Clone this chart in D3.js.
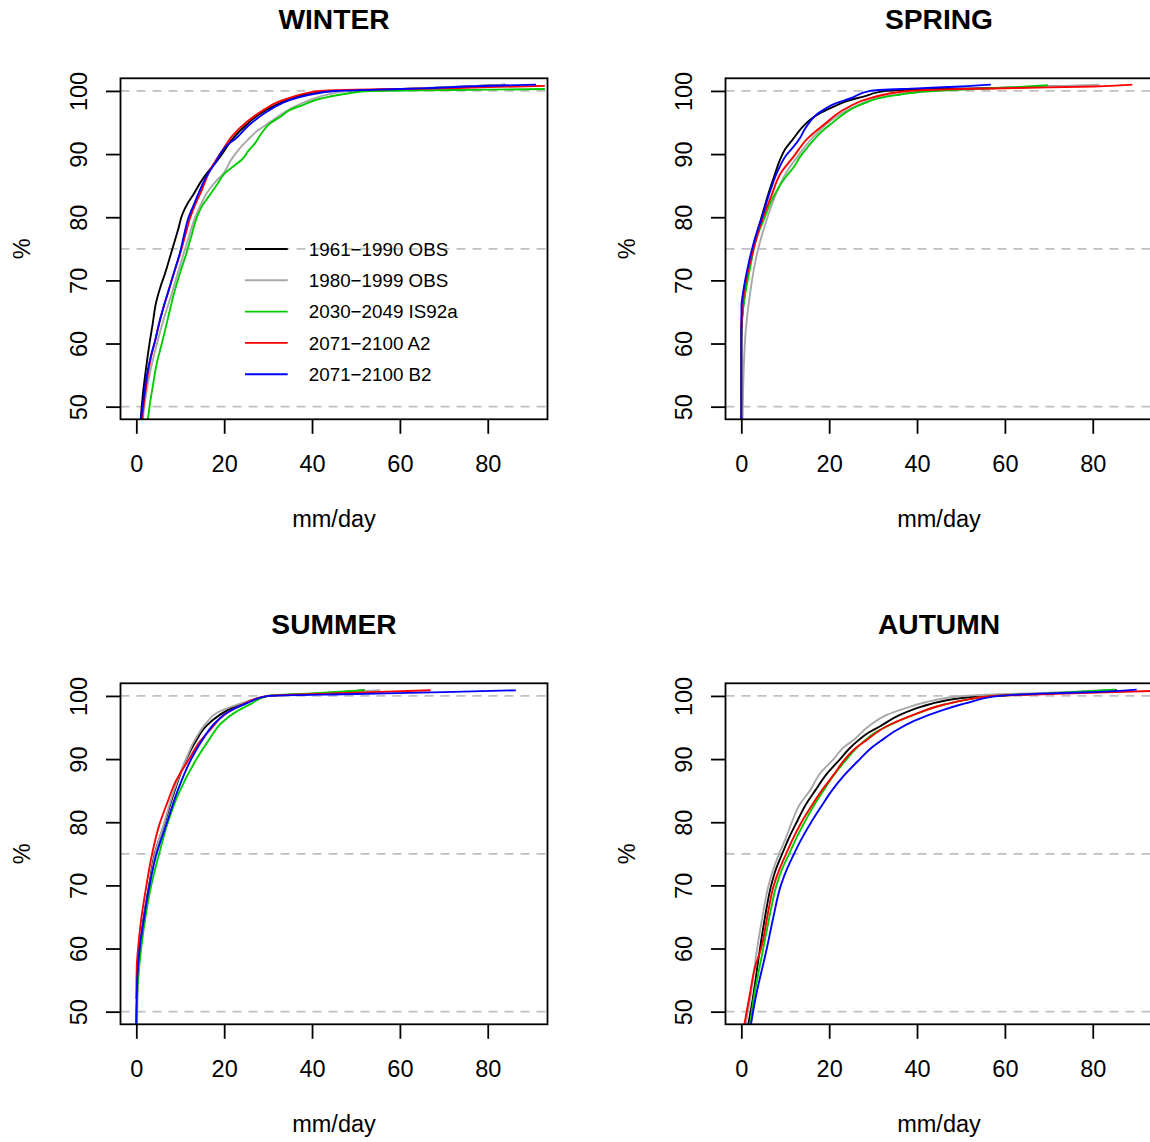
<!DOCTYPE html>
<html lang="en">
<head>
<meta charset="UTF-8">
<title>Daily precipitation distribution by season</title>
<script src="https://cdn.jsdelivr.net/npm/d3@7"></script>
<style>
  body { margin: 0; background: #fff; }
  svg { display: block; font-family: "Liberation Sans", Arial, Helvetica, sans-serif; }
</style>
</head>
<body>
<svg id="chart" width="1150" height="1142"></svg>
<script>
// ---- data ----
const seasons = ["WINTER", "SPRING", "SUMMER", "AUTUMN"];
const seriesNames = ["1961\u22121990 OBS", "1980\u22121999 OBS", "2030\u22122049 IS92a", "2071\u22122100 A2", "2071\u22122100 B2"];
const xTicks = [0, 20, 40, 60, 80];
const yTicks = [50, 60, 70, 80, 90, 100];
const refLevels = [50, 75, 100];
const xLimits = [0, 90];
const yLimits = [50, 100];
const xLabel = "mm/day";
const yLabel = "%";

// [mm/day, %]
const winterObs6190 = [[1.0,48],[1.5,52],[2.2,56],[3.0,60],[3.7,63],[4.5,66.5],[5.5,69],[6.5,71],[8,74.5],[9.5,78],[10.5,80.5],[11.7,82.2],[13,83.6],[14.5,85.4],[16,86.9],[18,88.6],[19.5,90],[22,92.5],[25,94.6],[28,96.3],[31,97.5],[35,98.7],[40,99.6],[45,100],[55,100.2],[65,100.4],[75,100.7],[84,101]];
const winterObs8099 = [[1.5,48],[2,51],[3,55],[4.7,60],[6.3,64],[8.1,68],[9.5,71.3],[10.8,74.3],[12,77],[13.4,80],[14.7,82],[16,83.8],[18,85.6],[19.9,87],[21.5,89],[23.3,90.7],[25.3,92.2],[27.4,93.6],[30.5,95.1],[33,96.3],[36,97.5],[40,98.7],[44,99.5],[48,100],[60,100.3],[70,100.6],[84,101]];
const winterIs92a = [[2.65,48],[3,50],[3.7,53],[4.7,57],[5.8,60],[7.2,64],[8.6,68],[10,71.3],[11.4,74.3],[12.6,77.2],[13.8,80],[15,81.8],[16.5,83.3],[18.5,85.3],[20.2,87],[22,88],[24,89.1],[25.5,90.5],[27,91.7],[28.5,93.3],[30.5,94.9],[33,96],[35,97],[38,97.8],[41,98.6],[44,99.1],[48,99.6],[53,100],[65,100.1],[80,100.2],[93,100.3]];
const winterA2 = [[1.3,48],[1.8,51],[2.6,55],[3.4,58],[4.3,60.5],[5.3,63.5],[6.3,66],[7.4,68.5],[8.7,71.5],[10,74.3],[11.2,77.3],[12.3,80],[13.4,82],[14.6,83.8],[15.7,85.7],[16.8,87.5],[18.3,89.2],[19.9,90.9],[22,93],[25,95],[29,97],[32,98.2],[35.8,99.1],[39,99.7],[42,100],[50,100.2],[60,100.3],[70,100.4],[80,100.6],[93,100.8]];
const winterB2 = [[1.06,48],[1.6,51],[2.4,55],[3.3,58],[4.3,60.5],[5.3,63.5],[6.3,66],[7.4,68.5],[8.7,71.5],[9.9,74.3],[10.9,77.3],[11.9,80],[13.1,82],[14.3,84],[15.6,86],[17,87.6],[18.3,89],[19.1,90],[20.5,91.3],[22.7,92.5],[25.5,94.5],[29.7,96.7],[33,98],[37,99],[41,99.6],[45,100],[55,100.2],[65,100.4],[75,100.7],[91,101]];

const springObs6190 = [[0,48],[0,60],[0.2,64],[0.8,68],[1.8,72],[3.1,76.4],[4.6,80],[6.2,83.8],[7.5,86.5],[8.8,89.1],[10,90.8],[11.8,92.4],[13.7,94.1],[15.6,95.4],[18,96.5],[21,97.5],[24,98.4],[27.8,99.1],[33,100],[45,100.3],[60,100.5],[75,100.8]];
const springObs8099 = [[0.3,48],[0.5,55],[1,62],[2,68],[3.5,74],[5.5,79],[7.5,83],[10,86.8],[13,89.8],[16.5,92.8],[21,95.6],[26,97.6],[32,99],[40,99.8],[50,100.2],[65,100.6],[81.5,101]];
const springIs92a = [[0,48],[0,62],[0.7,67],[2,72],[3.5,76.8],[5.4,80.1],[6.8,82.5],[8,84.1],[9.2,85.5],[10.5,86.7],[12,88],[13.4,89.6],[15,91],[16.8,92.5],[18.7,93.8],[21,95.1],[23,96.2],[25.5,97.3],[28.5,98.2],[31.6,98.9],[36,99.4],[40,99.8],[50,100.2],[60,100.5],[69.8,100.9]];
const springA2 = [[0,48],[0,62],[0.3,66],[0.8,69],[1.7,72],[3,75.5],[4.9,79.9],[6.8,83.3],[9,87],[11.9,89.6],[15,92.4],[18.7,94.6],[24,97.3],[29.5,98.9],[38,100],[50,100.3],[65,100.5],[80,100.7],[89,101]];
const springB2 = [[0,48],[0,62],[0.05,66],[0.5,68.5],[1.6,72.5],[3,76.4],[4.7,80],[6.5,84],[8.4,87.5],[10.3,89.9],[11.8,91.1],[13.4,92.6],[14.5,94],[15.6,95.1],[17,96.2],[18.7,97],[21.3,98],[24.8,98.8],[29.3,100],[40,100.4],[50,100.7],[56.8,101]];

const summerObs6190 = [[0,48],[0.3,55],[0.8,60],[1.8,65.5],[2.9,70],[4.2,75],[6.5,80],[8.5,84.5],[11.4,90],[13.5,92.8],[16,95.3],[19,97],[22,98.2],[26,99.2],[30,100],[40,100.3],[52,100.9]];
const summerObs8099 = [[0.2,48],[0.4,55],[0.9,60],[1.9,65.5],[3,70],[4.3,75],[6.4,80],[8.4,84.7],[11.3,90],[13.3,93],[15.8,95.6],[18.5,97.4],[22,98.4],[26,99.3],[30,100],[45,100.5],[55.5,100.9]];
const summerIs92a = [[0,48],[0.3,54],[1.1,60],[2.2,65.5],[3.4,70],[5.2,75],[7.2,80],[9.8,84.8],[13.7,90],[16.5,93],[19.5,95.8],[22.5,97.4],[26,98.7],[30,100],[40,100.4],[52,100.9]];
const summerA2 = [[0,52],[0.1,57],[0.4,60],[1,64],[2.3,70],[3.6,75],[5.2,79.5],[7,83],[9,86.5],[12,90],[14.5,92.8],[17,94.8],[20,97],[24,98.6],[30,100],[45,100.4],[67,100.9]];
const summerB2 = [[0,48],[0.2,55],[0.76,60],[1.8,65],[3,70],[4.6,75],[7,80],[9.3,84.8],[12.5,90],[15,93],[18,95.8],[21,97.5],[25,98.8],[30,100],[50,100.3],[70,100.6],[86.4,100.9]];

const autumnObs6190 = [[1.6,48],[2.6,52],[4.25,60],[5.4,65],[6.8,70],[7.9,72.6],[9.3,75],[10.9,77.6],[12.6,80],[14.6,82.7],[16.8,85],[19.5,87.7],[22.5,90],[24.5,91.6],[26.7,93],[29,94.2],[31.6,95.2],[36.1,97],[41,98.3],[46,99.2],[52,99.8],[57,100],[70,100.4],[85.5,100.9]];
const autumnObs8099 = [[1.0,48],[2.0,52],[3.6,60],[4.8,65],[6.2,70],[7.3,72.6],[8.6,75],[10.2,77.6],[11.5,80],[13.2,82.7],[15.6,85],[18,87.8],[21,90],[23.2,91.8],[25.5,93],[29,95.2],[33.1,97],[38,98.2],[42,99],[46,99.6],[50.6,100],[60,100.3],[70,100.5],[85,101]];
const autumnIs92a = [[2.0,48],[2.8,52],[5.0,60],[6.4,65],[8.0,70],[9.3,72.6],[10.9,75],[12.6,77.6],[14.4,80],[16.5,82.6],[18.7,85],[21,87.4],[24,90],[26,91.6],[28.2,93],[30.5,94.2],[33.5,95.3],[39.2,97],[46,98.6],[52,99.5],[57.4,100],[70,100.4],[85,101]];
const autumnA2 = [[0.7,48],[2,53],[3.1,57],[4.5,60],[5.9,65],[7.4,70],[8.7,72.6],[10.2,75],[11.9,77.6],[13.7,80],[16,82.6],[18.3,85],[21,87.5],[23.6,90],[26,91.7],[28.5,93],[33.1,95.2],[39.2,97],[46,98.6],[52,99.5],[57.4,100],[70,100.3],[85,100.6],[93.6,100.8]];
const autumnB2 = [[2.2,48],[3.2,52],[5.8,60],[7.3,65],[9.0,70],[10.4,72.6],[12,75],[13.9,77.6],[15.9,80],[18.2,82.5],[20.6,85],[23.5,87.5],[27,90],[29.5,91.7],[32,93],[35.4,94.6],[39.2,96],[46,97.8],[52,99],[58.9,100],[70,100.4],[80,100.6],[90,101]];

const seasonCurves = [
  [winterObs6190, winterObs8099, winterIs92a, winterA2, winterB2],
  [springObs6190, springObs8099, springIs92a, springA2, springB2],
  [summerObs6190, summerObs8099, summerIs92a, summerA2, summerB2],
  [autumnObs6190, autumnObs8099, autumnIs92a, autumnA2, autumnB2]
];

// ---- style ----
const seriesColors = ["#000000", "#a8a8a8", "#00cd00", "#ff0000", "#0000ff"];
const refColor = "#c0c0c0";
const baseFont = 23.5;

// ---- layout (R-like 2x2 panels) ----
const svg = d3.select("#chart");
const cellSize = 605;
const plotLeft = 120.5, plotTop = 78.3, plotW = 427, plotH = 341;

// R pads the limits by 4% on each side
const pad = (lim) => { const d = (lim[1] - lim[0]) * 0.04; return [lim[0] - d, lim[1] + d]; };

seasons.forEach((season, i) => {
  const col = i % 2, row = Math.floor(i / 2);
  const g = svg.append("g")
      .attr("transform", `translate(${col * cellSize + plotLeft},${row * cellSize + plotTop})`);

  const x = d3.scaleLinear().domain(pad(xLimits)).range([0, plotW]);
  const y = d3.scaleLinear().domain(pad(yLimits)).range([plotH, 0]);

  const clipId = "clip" + i;
  g.append("clipPath").attr("id", clipId)
    .append("rect").attr("width", plotW).attr("height", plotH);

  // dashed reference lines
  g.selectAll("line.ref").data(refLevels).enter().append("line")
      .attr("class", "ref")
      .attr("x1", 0).attr("x2", plotW)
      .attr("y1", d => y(d)).attr("y2", d => y(d))
      .attr("stroke", refColor).attr("stroke-width", 1.8)
      .attr("stroke-dasharray", "9,7");

  // curves (values rise monotonically in %, so interpolate along y)
  const line = d3.line().x(d => x(d[0])).y(d => y(d[1])).curve(d3.curveMonotoneY);
  g.append("g").attr("clip-path", `url(#${clipId})`)
    .selectAll("path").data(seasonCurves[i]).enter().append("path")
      .attr("d", line)
      .attr("fill", "none")
      .attr("stroke", (d, k) => seriesColors[k])
      .attr("stroke-width", 1.9)
      .attr("stroke-linejoin", "round");

  // x axis
  const xAxis = g.append("g")
      .attr("transform", `translate(0,${plotH})`)
      .call(d3.axisBottom(x).tickValues(xTicks).tickSize(14.5).tickPadding(21.2));
  xAxis.select(".domain").remove();

  // y axis, labels parallel to the axis
  const yAxis = g.append("g")
      .call(d3.axisLeft(y).tickValues(yTicks).tickSize(14.5));
  yAxis.select(".domain").remove();
  yAxis.selectAll("text")
      .attr("x", 0).attr("y", -33.4).attr("dy", null)
      .attr("transform", "rotate(-90)")
      .attr("text-anchor", "middle");

  g.selectAll(".tick line").attr("stroke", "#000").attr("stroke-width", 1.8);
  g.selectAll(".tick text")
      .attr("fill", "#000")
      .style("font-size", baseFont + "px")
      .style("font-family", "'Liberation Sans', Arial, sans-serif");

  // box
  g.append("rect")
      .attr("width", plotW).attr("height", plotH)
      .attr("fill", "none").attr("stroke", "#000").attr("stroke-width", 1.8);

  // titles
  g.append("text")
      .attr("x", plotW / 2).attr("y", -49)
      .attr("text-anchor", "middle")
      .style("font-size", (baseFont * 1.2) + "px").style("font-weight", "bold")
      .text(season);
  g.append("text")
      .attr("x", plotW / 2).attr("y", plotH + 108)
      .attr("text-anchor", "middle")
      .style("font-size", baseFont + "px")
      .text(xLabel);
  g.append("text")
      .attr("transform", `translate(-91,${plotH / 2}) rotate(-90)`)
      .attr("text-anchor", "middle")
      .style("font-size", baseFont + "px")
      .text(yLabel);

  // legend only in the first panel
  if (i === 0) {
    const leg = g.append("g").attr("transform", "translate(124.5,170.7)");
    const rows = leg.selectAll("g").data(seriesNames).enter().append("g")
        .attr("transform", (d, k) => `translate(0,${k * 31.3})`);
    rows.append("line")
        .attr("x1", 0).attr("x2", 42.7)
        .attr("stroke", (d, k) => seriesColors[k]).attr("stroke-width", 1.9);
    rows.append("text")
        .attr("x", 63.8).attr("y", 6.8)
        .style("font-size", (baseFont * 0.8) + "px")
        .text(d => d);
  }
});
</script>
</body>
</html>
